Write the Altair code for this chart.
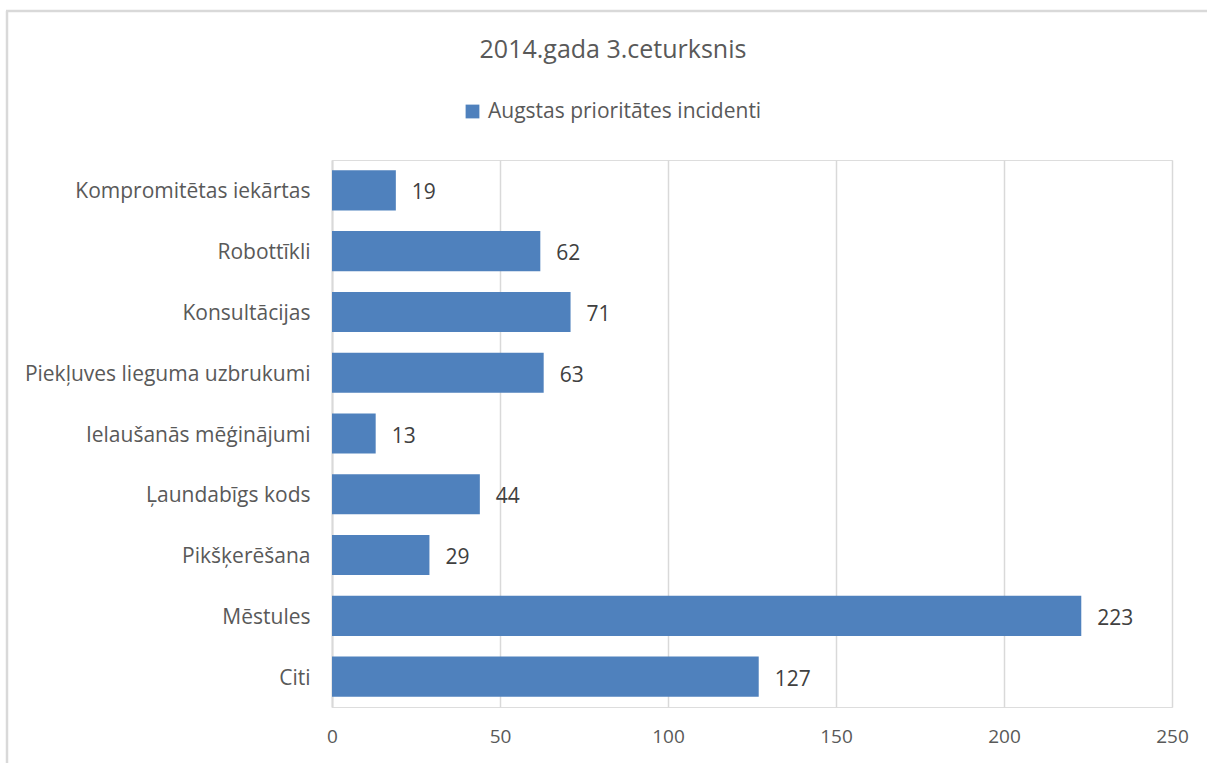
import altair as alt
import pandas as pd

categories = [
    "Kompromitētas iekārtas",
    "Robottīkli",
    "Konsultācijas",
    "Piekļuves lieguma uzbrukumi",
    "Ielaušanās mēģinājumi",
    "Ļaundabīgs kods",
    "Pikšķerēšana",
    "Mēstules",
    "Citi",
]
values = [19, 62, 71, 63, 13, 44, 29, 223, 127]
series_name = "Augstas prioritātes incidenti"
x_ticks = [0, 50, 100, 150, 200, 250]

df = pd.DataFrame({"kategorija": categories, "skaits": values, "serija": [series_name] * len(values)})

FONT = "Open Sans"
GREY = "#595959"

base = alt.Chart(df)

y_enc = alt.Y(
    "kategorija:N",
    sort=categories,
    scale=alt.Scale(paddingInner=0.34, paddingOuter=0.17),
    axis=alt.Axis(
        title=None, ticks=False, domain=True, domainColor="#d9d9d9", domainWidth=2,
        labelFont=FONT, labelFontSize=21, labelColor=GREY, labelPadding=22, labelLimit=0,
        labelOffset=2,
    ),
)
x_enc = alt.X(
    "skaits:Q",
    scale=alt.Scale(domain=[0, 250], nice=False),
    axis=alt.Axis(
        title=None, values=x_ticks, grid=True, gridColor="#d9d9d9", gridWidth=1.5,
        domain=False, ticks=False, labelFont=FONT, labelFontSize=19, labelColor=GREY,
        labelPadding=20, labelFlush=False,
    ),
)

bars = base.mark_bar(color="#4F81BD").encode(
    y=y_enc,
    x=x_enc,
    color=alt.Color(
        "serija:N",
        scale=alt.Scale(range=["#4F81BD"]),
        legend=alt.Legend(
            title=None, orient="none", legendX=130, legendY=-59, symbolType="square",
            symbolSize=190, labelFont=FONT, labelFontSize=21, labelColor=GREY,
            symbolStrokeWidth=0, labelLimit=0, labelOffset=5,
        ),
    ),
)

labels = base.mark_text(align="left", baseline="middle", dx=16, dy=3, font=FONT, fontSize=21, color="#404040").encode(
    y=alt.Y("kategorija:N", sort=categories),
    x="skaits:Q",
    text="skaits:Q",
)

frame_data = alt.Data(values=[{"a": 1}])
left_line = alt.Chart(frame_data).mark_rule(color="#d9d9d9", strokeWidth=2.5).encode(
    x=alt.value(-325), y=alt.value(-149), y2=alt.value(620)
)
top_line = alt.Chart(frame_data).mark_rule(color="#d9d9d9", strokeWidth=2.5).encode(
    x=alt.value(-326), x2=alt.value(900), y=alt.value(-149)
)

chart = alt.layer(left_line, top_line, bars, labels).properties(
    width=840,
    height=547,
    autosize=alt.AutoSizeParams(type="none"),
    padding={"left": 332, "top": 160, "right": 35, "bottom": 56},
    title=alt.TitleParams(
        "2014.gada 3.ceturksnis", font=FONT, fontSize=25, fontWeight="normal",
        color=GREY, anchor="middle", dx=-139, offset=0, dy=53,
    ),
).configure_view(stroke=None).configure(background="white")

chart.save("out.html", embed_options={"renderer": "svg", "actions": False})
